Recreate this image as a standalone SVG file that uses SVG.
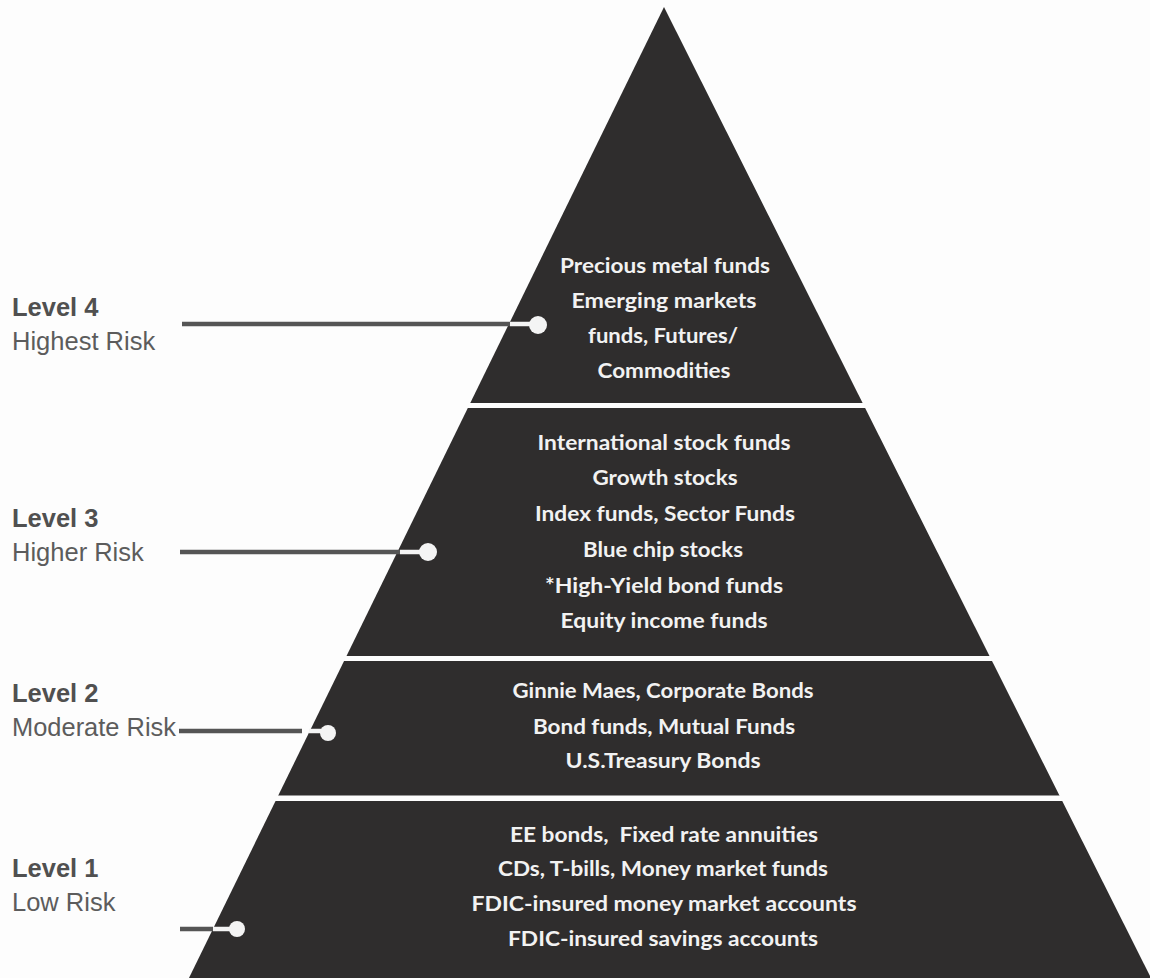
<svg xmlns="http://www.w3.org/2000/svg" width="1150" height="978" viewBox="0 0 1150 978">
<style>
.lvl{font-family:"Liberation Sans",Arial,sans-serif;font-size:25.5px;font-weight:bold;fill:#505050}
.risk{font-family:"Liberation Sans",Arial,sans-serif;font-size:25.5px;fill:#5c5c5c}
.pt{font-family:Lato,"Open Sans",sans-serif;font-size:21px;font-weight:bold;fill:#f2f2f2;text-anchor:middle}
.gl{stroke:#555;stroke-width:4.5;fill:none}
.wl{stroke:#f4f4f4;stroke-width:4.5;fill:none}
.dot{fill:#f4f4f4}
</style>
<rect x="0" y="0" width="1150" height="978" fill="#fdfdfd"/>
<g id="pyramid">
<polygon points="664,7 1152,980 188,980" fill="#2f2d2d"/>
<rect x="150" y="403" width="1000" height="5" fill="#fdfdfd"/>
<rect x="150" y="656" width="1000" height="5" fill="#fdfdfd"/>
<rect x="150" y="795.5" width="1000" height="5.5" fill="#fdfdfd"/>
</g>
<g id="tier4">
<text class="pt" x="665" y="273" textLength="210" lengthAdjust="spacingAndGlyphs">Precious metal funds</text>
<text class="pt" x="664" y="308" textLength="185" lengthAdjust="spacingAndGlyphs">Emerging markets</text>
<text class="pt" x="663" y="343" textLength="150" lengthAdjust="spacingAndGlyphs">funds, Futures/</text>
<text class="pt" x="664" y="378" textLength="133" lengthAdjust="spacingAndGlyphs">Commodities</text>
</g>
<g id="tier3">
<text class="pt" x="664" y="450" textLength="253" lengthAdjust="spacingAndGlyphs">International stock funds</text>
<text class="pt" x="665" y="485" textLength="145" lengthAdjust="spacingAndGlyphs">Growth stocks</text>
<text class="pt" x="665" y="521" textLength="260" lengthAdjust="spacingAndGlyphs">Index funds, Sector Funds</text>
<text class="pt" x="663" y="557" textLength="160" lengthAdjust="spacingAndGlyphs">Blue chip stocks</text>
<text class="pt" x="664" y="593" textLength="238" lengthAdjust="spacingAndGlyphs">*High-Yield bond funds</text>
<text class="pt" x="664" y="628" textLength="207" lengthAdjust="spacingAndGlyphs">Equity income funds</text>
</g>
<g id="tier2">
<text class="pt" x="663" y="698" textLength="301" lengthAdjust="spacingAndGlyphs">Ginnie Maes, Corporate Bonds</text>
<text class="pt" x="664" y="734" textLength="262" lengthAdjust="spacingAndGlyphs">Bond funds, Mutual Funds</text>
<text class="pt" x="663" y="768" textLength="195" lengthAdjust="spacingAndGlyphs">U.S.Treasury Bonds</text>
</g>
<g id="tier1">
<text class="pt" x="664" y="842" textLength="308" lengthAdjust="spacingAndGlyphs" xml:space="preserve">EE bonds,  Fixed rate annuities</text>
<text class="pt" x="663" y="876" textLength="330" lengthAdjust="spacingAndGlyphs">CDs, T-bills, Money market funds</text>
<text class="pt" x="664" y="911" textLength="385" lengthAdjust="spacingAndGlyphs">FDIC-insured money market accounts</text>
<text class="pt" x="663" y="946" textLength="310" lengthAdjust="spacingAndGlyphs">FDIC-insured savings accounts</text>
</g>
<g id="label4">
<text class="lvl" x="12" y="316">Level 4</text>
<text class="risk" x="12" y="350">Highest Risk</text>
</g>
<g id="label3">
<text class="lvl" x="12" y="527">Level 3</text>
<text class="risk" x="12" y="561">Higher Risk</text>
</g>
<g id="label2">
<text class="lvl" x="12" y="702">Level 2</text>
<text class="risk" x="12" y="736" textLength="164" lengthAdjust="spacingAndGlyphs">Moderate Risk</text>
</g>
<g id="label1">
<text class="lvl" x="12" y="877">Level 1</text>
<text class="risk" x="12" y="911">Low Risk</text>
</g>
<g id="connectors">
<line class="gl" x1="182" y1="324" x2="510" y2="324"/>
<line class="wl" x1="510" y1="324" x2="535" y2="324"/>
<circle class="dot" cx="538" cy="325" r="9"/>
<line class="gl" x1="180" y1="552" x2="400" y2="552"/>
<line class="wl" x1="400" y1="552" x2="425" y2="552"/>
<circle class="dot" cx="428" cy="552" r="9"/>
<line class="gl" x1="179" y1="731" x2="302" y2="731"/>
<line class="wl" x1="309" y1="731" x2="325" y2="731"/>
<circle class="dot" cx="328" cy="733" r="8"/>
<line class="gl" x1="180" y1="929" x2="213" y2="929"/>
<line class="wl" x1="213" y1="929" x2="234" y2="929"/>
<circle class="dot" cx="237" cy="929" r="8"/>
</g>
</svg>
